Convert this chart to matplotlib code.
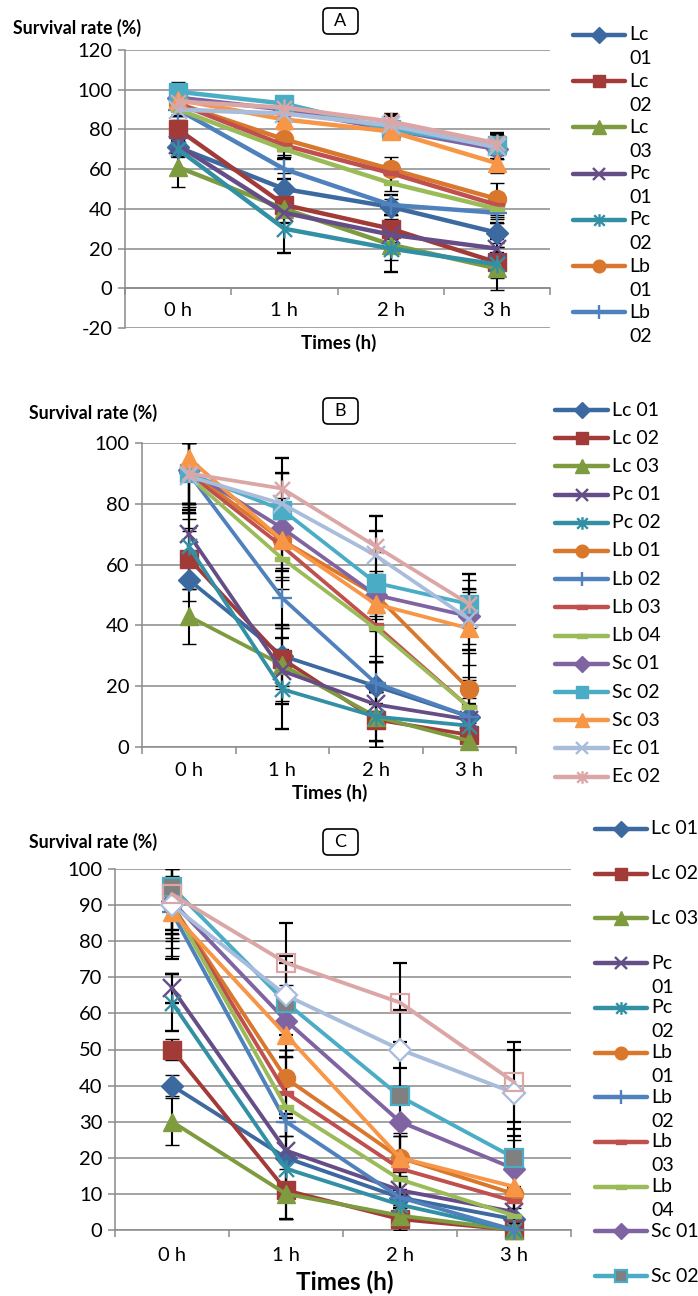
import matplotlib.pyplot as plt
import numpy as np
from matplotlib.path import Path
from matplotlib.patches import FancyBboxPatch

plt.rcParams['font.family'] = ['Lato', 'DejaVu Sans']
plt.rcParams['axes.unicode_minus'] = False

W, H = 698, 1296

times = ['0 h', '1 h', '2 h', '3 h']
strains = ['Lc 01', 'Lc 02', 'Lc 03', 'Pc 01', 'Pc 02', 'Lb 01', 'Lb 02',
           'Lb 03', 'Lb 04', 'Sc 01', 'Sc 02', 'Sc 03', 'Ec 01', 'Ec 02']
colors = ['#3C6AA0', '#A23B38', '#7E9C3F', '#654D88', '#3390A4', '#D9782D', '#4F81BD',
          '#C0504D', '#9BBB59', '#8064A2', '#4BACC6', '#F79646', '#A8BCDB', '#DBA7A6']

# survival (%) at 0,1,2,3 h, one row per strain
surv_a = [[71, 50, 41, 28], [80, 42, 30, 13], [61, 40, 22, 10], [72, 38, 27, 20],
          [70, 30, 20, 12], [93, 75, 60, 45], [90, 60, 42, 38], [93, 72, 58, 42],
          [90, 70, 53, 40], [96, 90, 80, 70], [99, 93, 80, 72], [95, 85, 79, 63],
          [90, 88, 82, 71], [94, 91, 84, 73]]
sd_a = [[3, 8, 4, 5], [5, 6, 5, 8], [10, 4, 8, 11], [4, 5, 4, 5], [4, 12, 12, 6],
        [3, 6, 6, 8], [3, 5, 5, 5], [3, 5, 5, 6], [3, 4, 4, 5], [3, 4, 4, 5],
        [5, 4, 4, 5], [3, 5, 4, 5], [3, 4, 5, 6], [3, 4, 4, 5]]

surv_b = [[55, 30, 20, 10], [62, 29, 9, 4], [43, 27, 10, 2], [70, 25, 14, 9],
          [66, 19, 10, 7], [91, 68, 50, 19], [90, 49, 21, 10], [90, 66, 40, 13],
          [89, 62, 39, 13], [91, 72, 50, 43], [90, 78, 54, 47], [95, 68, 47, 39],
          [89, 80, 63, 42], [90, 85, 66, 47]]
sd_b = [[7, 10, 8, 6], [10, 10, 9, 4], [9, 12, 8, 3], [10, 11, 6, 5], [12, 13, 8, 6],
        [12, 9, 8, 12], [10, 9, 7, 8], [15, 11, 10, 10], [18, 10, 11, 9], [14, 10, 7, 9],
        [10, 12, 10, 8], [5, 12, 9, 12], [12, 10, 8, 10], [10, 10, 10, 10]]

surv_c = [[40, 20, 9, 3], [50, 11, 3, 0], [30, 10, 4, 0], [67, 22, 11, 5],
          [63, 17, 7, 0], [90, 42, 20, 10], [88, 30, 9, 0], [90, 38, 17, 8],
          [90, 34, 14, 4], [91, 58, 30, 17], [95, 63, 37, 20], [88, 54, 20, 12],
          [90, 65, 50, 38], [93, 74, 63, 41]]
sd_c = [[3, 10, 6, 3], [3, 8, 3, 2], [6.5, 7, 3, 2], [4, 10, 5, 5], [8, 14, 4, 3],
        [10, 8, 6, 10], [6, 18, 8, 4], [8, 12, 10, 8], [12, 8, 12, 6], [10, 10, 10, 8],
        [12, 11, 8, 8], [12, 12, 10, 10], [15, 11, 11, 12], [10, 11, 11, 11]]

# excel-like star (x with a vertical bar) and dash markers
star = Path([(-1, -1), (1, 1), (-1, 1), (1, -1), (0, -1.2), (0, 1.2)],
            [Path.MOVETO, Path.LINETO, Path.MOVETO, Path.LINETO, Path.MOVETO, Path.LINETO])
dash = Path([(-1, -0.35), (1, -0.35), (1, 0.35), (-1, 0.35), (-1, -0.35)],
            [Path.MOVETO, Path.LINETO, Path.LINETO, Path.LINETO, Path.CLOSEPOLY])

markers = ['D', 's', '^', 'x', star, 'o', '+', dash, dash, 'D', 's', '^', 'x', star]
sizes = [11, 12.5, 13.5, 13, 13, 13, 14, 10, 10, 11, 12.5, 13.5, 13, 13]
stroked = {3, 4, 6, 12, 13}

grey = '#8A8A8A'

fig = plt.figure(figsize=(W / 100, H / 100), dpi=100)


def px_axes(l, t, r, b):
    return fig.add_axes([l / W, 1 - b / H, (r - l) / W, (b - t) / H])


def marker_style(i, panel, scale=1.0):
    c = colors[i]
    st = dict(marker=markers[i], markersize=sizes[i] * scale)
    if i in stroked:
        st.update(markerfacecolor='none', markeredgecolor=c, markeredgewidth=1.7)
    else:
        st.update(markerfacecolor=c, markeredgecolor=c, markeredgewidth=1)
    if panel == 'C':
        if i == 10:
            st.update(markerfacecolor='#808080', markeredgecolor=c, markeredgewidth=1.6)
        if i == 12:
            st.update(marker='D', markersize=11 * scale, markerfacecolor='white',
                      markeredgecolor=c, markeredgewidth=1.6)
        if i == 13:
            st.update(marker='s', markersize=12.5 * scale, markerfacecolor='none',
                      markeredgecolor=c, markeredgewidth=1.6)
    return st


def draw_panel(ax, surv, sd, panel, ymin, ymax, step, lw, pad):
    x = np.arange(len(times))
    for i in range(len(strains)):
        cont = ax.errorbar(x, surv[i], yerr=sd[i], color=colors[i], lw=lw,
                           ecolor='black', elinewidth=1.5, capsize=5, capthick=1.5,
                           zorder=3 + i * 0.01, **marker_style(i, panel))
        cont[0].set_clip_on(False)
    ax.set_xlim(-0.5, 3.5)
    ax.set_ylim(ymin, ymax)
    ax.set_yticks(np.arange(ymin, ymax + 1, step))
    ax.set_xticks(x)
    ax.set_xticklabels(times)
    ax.set_xticks([-0.5, 0.5, 1.5, 2.5, 3.5], minor=True)
    ax.tick_params(axis='x', which='major', length=0, pad=pad, labelsize=14.5)
    ax.tick_params(axis='x', which='minor', length=5, color=grey, width=1.1)
    ax.tick_params(axis='y', length=5, color=grey, width=1.1, labelsize=14.5, pad=4)
    ax.yaxis.grid(True, color=grey, lw=1.1)
    ax.set_axisbelow(True)
    for s in ['top', 'right']:
        ax.spines[s].set_visible(False)
    for s in ['left', 'bottom']:
        ax.spines[s].set_color(grey)
        ax.spines[s].set_linewidth(1.1)
    ax.spines['bottom'].set_position(('data', 0))


ax_a = px_axes(125, 50, 550, 328)
draw_panel(ax_a, surv_a, sd_a, 'A', -20, 120, 20, 3.2, 10)
ax_b = px_axes(142, 443, 516, 747)
draw_panel(ax_b, surv_b, sd_b, 'B', 0, 100, 20, 2.7, 11)
ax_c = px_axes(115, 869, 571, 1230)
draw_panel(ax_c, surv_c, sd_c, 'C', 0, 100, 10, 2.8, 12)

# overlay in pixel units for titles, panel tags and legends
ov = fig.add_axes([0, 0, 1, 1], zorder=10)
ov.set_xlim(0, W)
ov.set_ylim(H, 0)
ov.axis('off')
ov.patch.set_visible(False)

for (tx, ty), (lx, ly, fs), tag in [((13, 28), (339, 343, 13.5), 'A'),
                                     ((29, 413), (330, 793, 13.5), 'B'),
                                     ((29, 842), (345, 1282, 17.5), 'C')]:
    ov.text(tx, ty, 'Survival rate (%)', fontsize=12.8, fontweight='bold', ha='left', va='center')
    ov.text(lx, ly, 'Times (h)', fontsize=fs, fontweight='bold', ha='center', va='center')
    tag_y = {'A': 21, 'B': 411, 'C': 842}[tag]
    ov.add_patch(FancyBboxPatch((323, tag_y - 13), 35, 26,
                                boxstyle='round,pad=0,rounding_size=5',
                                fc='white', ec='black', lw=1.2))
    ov.text(340.5, tag_y, tag, fontsize=13, ha='center', va='center')


def legend(panel, x0, x1, y0, dy, count, wrapped, lw):
    for i in range(count):
        y = y0 + i * dy
        ov.plot([x0, x1], [y, y], color=colors[i], lw=lw, solid_capstyle='round')
        ov.plot([(x0 + x1) / 2], [y], linestyle='none', **marker_style(i, panel, 0.7))
        first, second = strains[i].split()
        if i in wrapped:
            ov.text(x1 + 4, y, first, fontsize=14, ha='left', va='center')
            ov.text(x1 + 4, y + 24, second, fontsize=14, ha='left', va='center')
        else:
            ov.text(x1 + 4, y, strains[i], fontsize=14, ha='left', va='center')


legend('A', 573, 625, 35, 46.2, 7, set(range(7)), 3.2)
legend('B', 555, 608, 410, 28.2, 14, set(), 3.2)
legend('C', 595, 647, 829, 44.7, 11, set(range(3, 9)), 3.2)

fig.savefig('out.png', dpi=100)
